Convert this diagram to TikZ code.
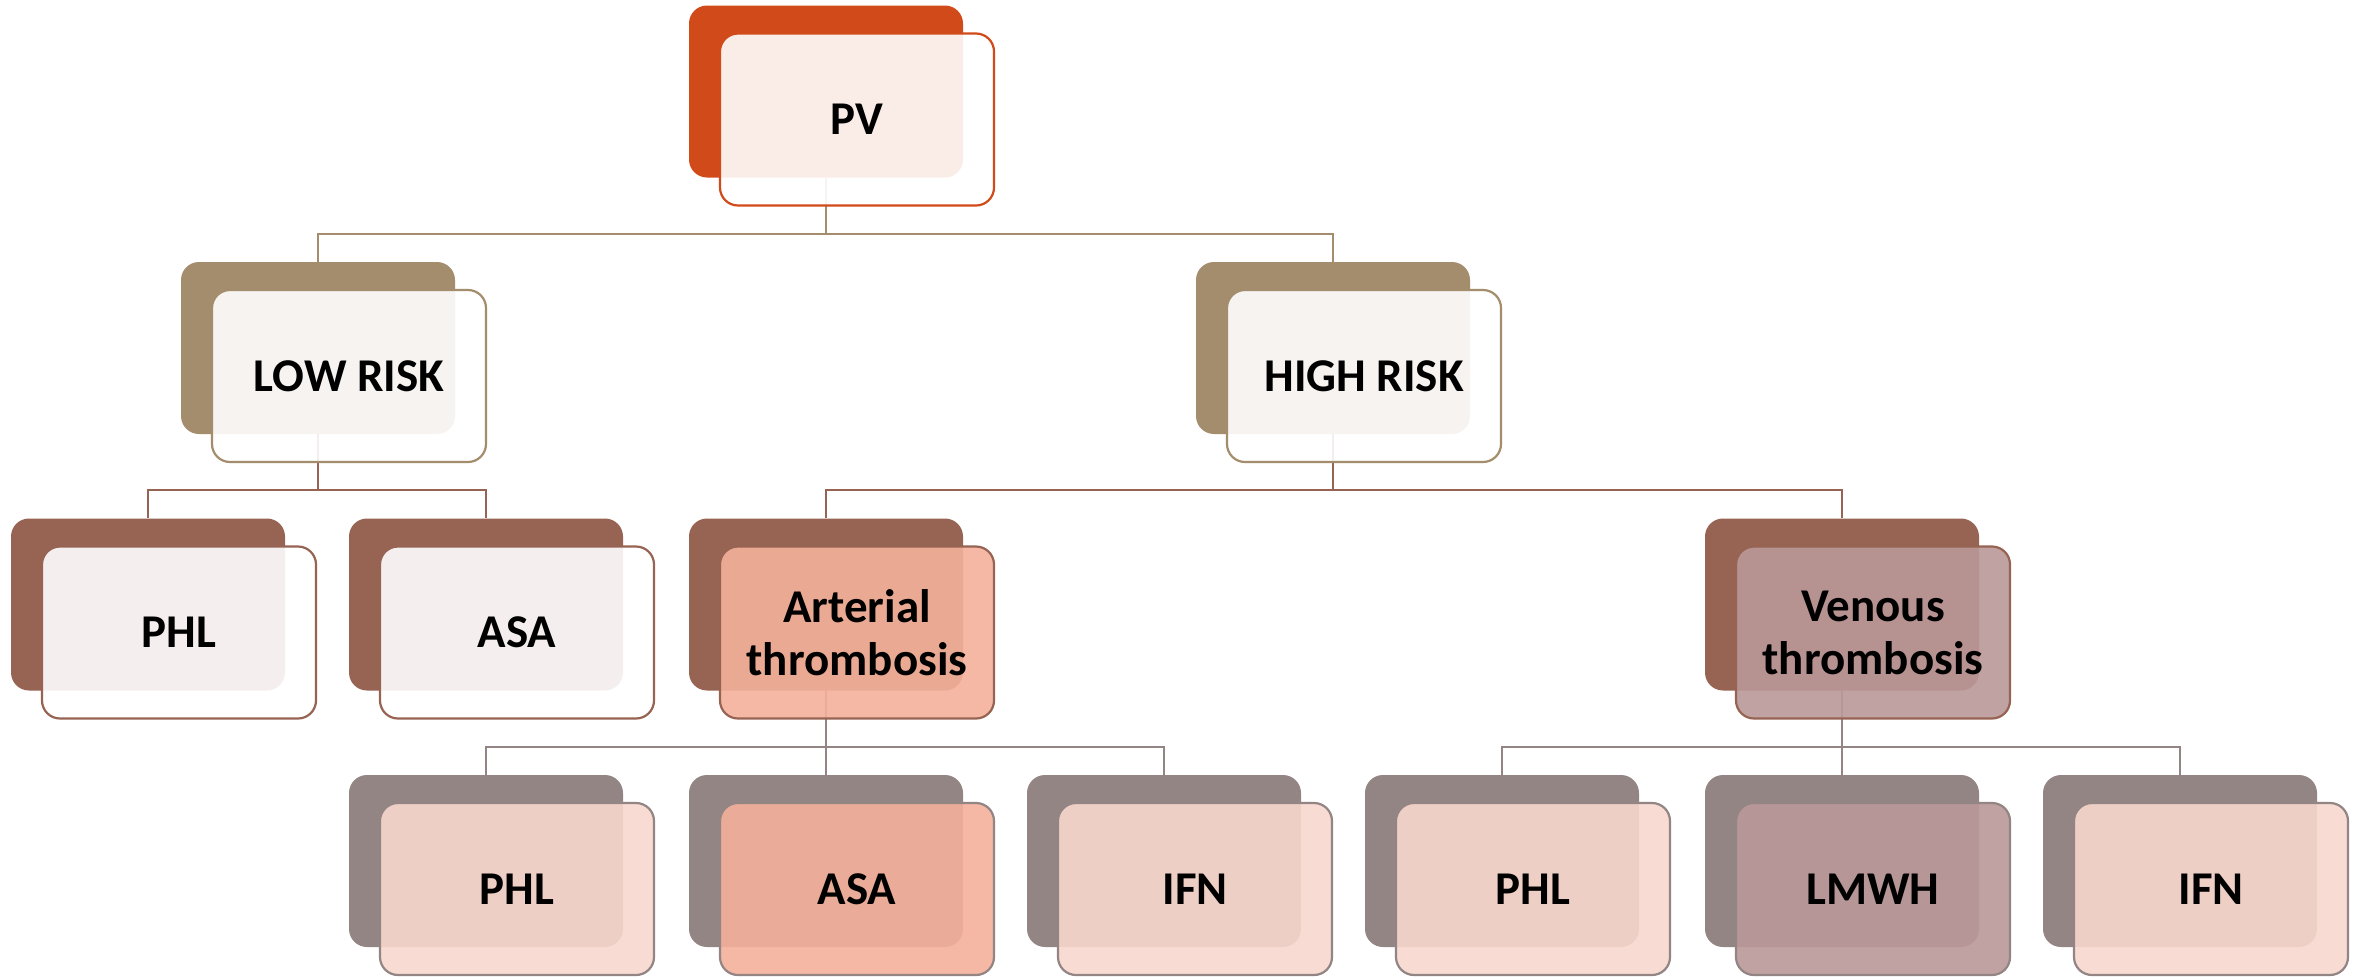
\documentclass[tikz,border=0pt]{standalone}
\usepackage{fontspec}
\setmainfont{Carlito}
\usetikzlibrary{positioning}
\definecolor{pvred}{HTML}{D14A19}
\definecolor{sand}{HTML}{A48D6C}
\definecolor{rust}{HTML}{976352}
\definecolor{taupe}{HTML}{928584}
\definecolor{salmon}{HTML}{F4B19B}
\definecolor{mauve}{HTML}{BA9898}
\definecolor{blush}{HTML}{F8D8CE}
\tikzset{bk/.style={rounded corners=18pt,minimum width=274pt,minimum height=172pt,inner sep=0pt},
 fr/.style={rounded corners=18pt,minimum width=274pt,minimum height=172pt,inner sep=0pt,line width=2.2pt,
  fill opacity=.9,text opacity=1,draw opacity=1,align=center,font=\bfseries\fontsize{47}{53}\selectfont},
 wire/.style={line width=2.2pt}}

\begin{document}
\begin{tikzpicture}[x=1pt,y=-1pt]
\useasboundingbox[fill=white](0,0)rectangle(2367,978);
% back boxes
\node[bk,fill=pvred](pvb) at(826,91.5){};
\node[bk,fill=sand](lowb) at(318,348){};
\node[bk,fill=sand](highb) at(1333,348){};
\node[bk,fill=rust](phlab) at(148,604.5){};
\node[bk,fill=rust](asaab) at(486,604.5){};
\node[bk,fill=rust](artb) at(826,604.5){};
\node[bk,fill=rust](venb) at(1842,604.5){};
\node[bk,fill=taupe](phlbb) at(486,861){};
\node[bk,fill=taupe](asabb) at(826,861){};
\node[bk,fill=taupe](ifnab) at(1164,861){};
\node[bk,fill=taupe](phlcb) at(1502,861){};
\node[bk,fill=taupe](lmwhb) at(1842,861){};
\node[bk,fill=taupe](ifnbb) at(2180,861){};
% connectors
\draw[wire,sand](pvb.south)--++(0,56)-|(lowb.north);
\draw[wire,sand](pvb.south)--++(0,56)-|(highb.north);
\draw[wire,rust](lowb.south)--++(0,56)-|(phlab.north);
\draw[wire,rust](lowb.south)--++(0,56)-|(asaab.north);
\draw[wire,rust](highb.south)--++(0,56)-|(artb.north);
\draw[wire,rust](highb.south)--++(0,56)-|(venb.north);
\draw[wire,taupe](artb.south)--++(0,56)-|(phlbb.north);
\draw[wire,taupe](artb.south)--++(0,56)-|(asabb.north);
\draw[wire,taupe](artb.south)--++(0,56)-|(ifnab.north);
\draw[wire,taupe](venb.south)--++(0,56)-|(phlcb.north);
\draw[wire,taupe](venb.south)--++(0,56)-|(lmwhb.north);
\draw[wire,taupe](venb.south)--++(0,56)-|(ifnbb.north);
% front boxes
\node[fr,draw=pvred,fill=white](pv) at([shift={(31,28)}]pvb){PV};
\node[fr,draw=sand,fill=white](low) at([shift={(31,28)}]lowb){LOW RISK};
\node[fr,draw=sand,fill=white](high) at([shift={(31,28)}]highb){HIGH RISK};
\node[fr,draw=rust,fill=white](phla) at([shift={(31,28)}]phlab){PHL};
\node[fr,draw=rust,fill=white](asaa) at([shift={(31,28)}]asaab){ASA};
\node[fr,draw=rust,fill=salmon](art) at([shift={(31,28)}]artb){Arterial\\thrombosis};
\node[fr,draw=rust,fill=mauve](ven) at([shift={(31,28)}]venb){Venous\\thrombosis};
\node[fr,draw=taupe,fill=blush](phlb) at([shift={(31,28)}]phlbb){PHL};
\node[fr,draw=taupe,fill=salmon](asab) at([shift={(31,28)}]asabb){ASA};
\node[fr,draw=taupe,fill=blush](ifna) at([shift={(31,28)}]ifnab){IFN};
\node[fr,draw=taupe,fill=blush](phlc) at([shift={(31,28)}]phlcb){PHL};
\node[fr,draw=taupe,fill=mauve](lmwh) at([shift={(31,28)}]lmwhb){LMWH};
\node[fr,draw=taupe,fill=blush](ifnb) at([shift={(31,28)}]ifnbb){IFN};
\end{tikzpicture}
\end{document}
